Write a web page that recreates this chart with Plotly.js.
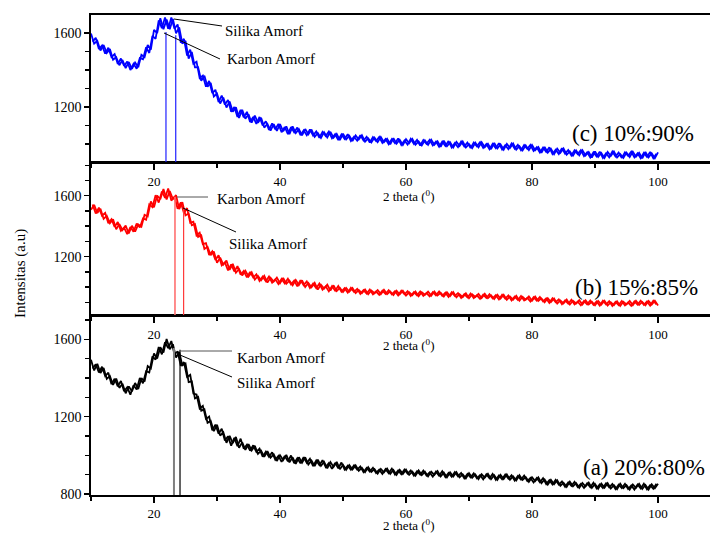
<!DOCTYPE html>
<html>
<head>
<meta charset="utf-8">
<script src="https://cdn.plot.ly/plotly-3.0.1.min.js"></script>
<style>html,body{margin:0;padding:0;background:#fff;}#chart{width:710px;height:533px;}</style>
</head>
<body>
<div id="chart"></div>
<script>
// 2-theta sampling grid (degrees); second read-out is offset by a quarter degree
const thetaStart = 10;
const thetaStep = 0.5;
const thetaOffset = 0.25;

// (c) 10%:90% – blue, top panel (read at 10, 10.5, ... 100)
const intensityC = [
1597,1542,1557,1505,1535,1492,1513,1455,1469,1426,
1454,1410,1443,1406,1440,1415,1482,1469,1535,1510,
1617,1599,1680,1620,1672,1620,1676,1598,1630,1542,
1557,1462,1497,1414,1415,1342,1369,1310,1330,1257,
1272,1219,1251,1197,1230,1175,1198,1141,1185,1137,
1160,1115,1153,1115,1142,1089,1109,1073,1108,1071,
1108,1069,1095,1053,1095,1059,1080,1047,1081,1053,
1078,1039,1059,1033,1064,1036,1066,1034,1055,1021,
1056,1025,1045,1016,1047,1024,1047,1013,1030,1008,
1035,1010,1038,1010,1029,999,1032,1002,1023,995,
1026,1004,1028,996,1014,992,1020,995,1023,996,
1015,985,1018,988,1009,981,1012,990,1014,982,
1000,978,1007,982,1010,983,1002,972,1006,976,
998,970,1001,979,1003,970,988,965,993,967,
995,966,984,953,985,954,974,945,975,953,
976,942,960,937,965,939,967,938,957,927,
960,931,952,925,957,935,960,928,946,925,
954,930,959,932,952,923,957,928,950,923,
955];
// (c) read at 10.25, 10.75, ... 99.75
const intensityC_q = [
1553,1574,1513,1532,1488,1520,1470,1486,1432,1462,
1422,1446,1400,1433,1407,1465,1458,1523,1492,1584,
1568,1668,1626,1684,1622,1684,1623,1646,1548,1568,
1478,1510,1434,1445,1356,1370,1310,1341,1275,1293,
1227,1262,1213,1238,1174,1200,1146,1185,1144,1174,
1119,1146,1109,1146,1101,1123,1076,1112,1080,1109,
1064,1092,1054,1092,1063,1089,1048,1074,1047,1079,
1046,1068,1034,1066,1043,1067,1031,1053,1022,1052,
1028,1053,1017,1040,1018,1048,1019,1039,1008,1037,
1016,1038,1006,1027,999,1027,1004,1030,995,1019,
997,1028,1001,1022,992,1021,1001,1023,992,1013,
985,1013,990,1016,981,1005,983,1014,987,1008,
978,1008,988,1010,979,1000,972,1001,978,1005,
970,994,972,1003,975,996,966,994,974,995,
963,983,954,981,957,982,946,969,946,977,
948,968,938,966,946,967,935,955,927,955,
933,959,925,950,928,960,933,954,925,955,
936,959,928,950,923,952,930,957,923,948];

// (b) 15%:85% – red, middle panel
const intensityB = [
1508,1540,1486,1515,1448,1468,1420,1446,1380,1414,
1375,1404,1352,1403,1365,1412,1397,1475,1464,1562,
1524,1601,1577,1644,1576,1631,1578,1604,1512,1558,
1471,1483,1406,1415,1330,1340,1251,1265,1209,1234,
1160,1193,1148,1174,1113,1153,1095,1119,1077,1108,
1070,1097,1049,1073,1045,1074,1030,1062,1037,1063,
1026,1060,1022,1043,1012,1047,1014,1045,1001,1027,
999,1028,984,1016,991,1016,978,1012,974,995,
968,995,970,994,961,981,961,985,953,978,
960,981,954,982,954,972,948,977,952,977,
945,966,947,972,941,967,950,971,944,972,
945,963,939,967,942,967,933,954,934,959,
927,953,935,956,928,956,928,946,922,950,
925,950,917,938,918,943,911,937,918,939,
911,938,909,926,901,928,902,926,892,913,
893,918,886,911,893,914,886,914,886,904,
880,909,885,911,879,901,882,908,877,904,
887,909,882,911,884,903,880,909,885,911,
879];
const intensityB_q = [
1542,1483,1522,1469,1487,1420,1446,1396,1427,1370,
1390,1348,1394,1364,1418,1391,1451,1442,1543,1525,
1604,1555,1628,1586,1648,1568,1593,1514,1557,1486,
1519,1422,1430,1339,1358,1282,1289,1211,1235,1179,
1209,1143,1162,1110,1149,1103,1138,1081,1106,1064,
1100,1063,1084,1040,1069,1039,1070,1029,1051,1020,
1054,1025,1055,1018,1043,1006,1046,1013,1037,994,
1023,993,1024,983,1005,972,1006,977,1007,970,
993,964,995,969,989,956,981,958,984,953,
971,949,977,955,980,952,974,946,977,953,
973,942,967,946,972,943,961,939,967,946,
971,943,964,936,967,942,961,929,954,932,
958,928,946,923,951,929,954,926,947,919,
950,925,945,913,938,916,942,912,929,906,
934,911,935,906,926,897,927,901,920,888,
913,891,917,886,904,881,909,887,912,884,
906,879,911,887,908,877,903,882,909,880,
899,877,906,885,911,884,906,879,911,887];

// (a) 20%:80% – black, bottom panel
const intensityA = [
1494,1439,1473,1426,1452,1395,1410,1364,1397,1349,
1370,1321,1356,1331,1374,1343,1399,1382,1461,1449,
1527,1500,1559,1532,1601,1548,1574,1505,1534,1465,
1475,1378,1382,1294,1302,1231,1238,1168,1178,1125,
1158,1102,1119,1065,1101,1063,1095,1039,1067,1028,
1058,1025,1049,1008,1024,992,1022,988,1005,971,
1001,976,1002,964,990,956,990,962,990,953,
973,944,978,946,966,933,965,940,966,928,
951,925,950,927,948,920,935,913,939,914,
929,905,930,912,932,904,924,899,925,904,
926,899,916,895,922,898,915,891,916,899,
919,891,911,886,912,891,913,886,902,881,
908,884,901,877,902,885,905,877,897,873,
899,878,901,874,891,870,897,873,888,863,
887,867,886,856,875,849,873,851,871,843,
858,837,864,840,856,832,857,839,859,832,
852,827,854,833,856,829,846,825,853,830,
846,823,849,832,853,826,847,823,850,830,
853];
const intensityA_q = [
1449,1471,1428,1458,1410,1427,1368,1396,1357,1384,
1331,1352,1314,1362,1340,1400,1373,1435,1428,1512,
1495,1560,1522,1585,1554,1591,1522,1537,1463,1482,
1405,1416,1319,1315,1242,1256,1188,1200,1130,1159,
1112,1137,1077,1098,1050,1090,1047,1086,1034,1055,
1024,1052,1018,1035,993,1019,992,1016,977,997,
966,997,969,999,959,985,959,991,961,982,
944,973,949,975,939,960,930,961,933,963,
927,947,926,949,926,942,913,935,916,936,
909,926,904,929,908,931,901,922,902,927,
905,922,895,918,900,921,895,912,890,916,
895,918,888,909,889,914,892,909,881,904,
886,907,881,898,876,902,881,904,874,896,
876,901,880,897,870,893,875,895,867,883,
860,883,861,882,851,871,849,873,849,865,
837,860,842,863,836,853,831,856,835,859,
829,850,831,856,835,852,825,848,831,853,
826,844,823,849,829,853,824,846,827,853];

// Peak marker sticks (position in 2theta, top intensity)
const peaksC_x = [21.9, 23.45];  const peaksC_top = [1605, 1588];
const peaksB_x = [23.33, 24.7];  const peaksB_top = [1594, 1517];
const peaksA_x = [23.17, 24.13]; const peaksA_top = [1555, 1546];

const panelLabels = ['(a) 20%:80%', '(b) 15%:85%', '(c) 10%:90%'];
const peakNames = ['Silika Amorf', 'Karbon Amorf'];
const yRanges = {a: [795, 1723], b: [814, 1819], c: [901, 1697]};
const xRange = [10, 108.25];

const theta = intensityA.map((_, i) => thetaStart + thetaStep * i);
const thetaQ = intensityA_q.map((_, i) => thetaStart + thetaOffset + thetaStep * i);

const FONT = 'Liberation Serif, Times New Roman, serif';

function series(x, y, color, xa, ya) {
  return {x: x, y: y, type: 'scatter', mode: 'lines', xaxis: xa, yaxis: ya,
          line: {color: color, width: 1.8}, hoverinfo: 'skip', showlegend: false};
}
function stick(x, top, bottom, color, width, xa, ya) {
  return {x: [x, x], y: [bottom, top], type: 'scatter', mode: 'lines', xaxis: xa, yaxis: ya,
          line: {color: color, width: width}, hoverinfo: 'skip', showlegend: false};
}

const traces = [
  series(theta, intensityA, '#000000', 'x', 'y'),
  series(thetaQ, intensityA_q, '#000000', 'x', 'y'),
  series(theta, intensityB, '#ff0000', 'x2', 'y2'),
  series(thetaQ, intensityB_q, '#ff0000', 'x2', 'y2'),
  series(theta, intensityC, '#0000ff', 'x3', 'y3'),
  series(thetaQ, intensityC_q, '#0000ff', 'x3', 'y3'),
  stick(peaksC_x[0], peaksC_top[0], yRanges.c[0], '#2020ff', 1.2, 'x3', 'y3'),
  stick(peaksC_x[1], peaksC_top[1], yRanges.c[0], '#2020ff', 1.2, 'x3', 'y3'),
  stick(peaksB_x[0], peaksB_top[0], yRanges.b[0], '#ff7070', 1.6, 'x2', 'y2'),
  stick(peaksB_x[1], peaksB_top[1], yRanges.b[0], '#ff3b3b', 1.2, 'x2', 'y2'),
  stick(peaksA_x[0], peaksA_top[0], yRanges.a[0], '#808080', 2, 'x', 'y'),
  stick(peaksA_x[1], peaksA_top[1], yRanges.a[0], '#000000', 1.2, 'x', 'y')
];

function xax(anchor) {
  return {domain: [0, 1], range: xRange, anchor: anchor, showgrid: false, zeroline: false,
    showline: true, linecolor: '#000', linewidth: 1.6, mirror: true,
    ticks: 'outside', ticklen: 6, tickwidth: 1.5, tickcolor: '#000',
    tick0: 0, dtick: 20,
    minor: {dtick: 10, ticks: 'outside', ticklen: 4, tickwidth: 1.5, tickcolor: '#000'},
    tickfont: {family: FONT, size: 13, color: '#000'}};
}
function yax(domain, range, anchor) {
  return {domain: domain, range: range, anchor: anchor, showgrid: false, zeroline: false,
    showline: true, linecolor: '#000', linewidth: 1.6, mirror: false,
    ticks: 'outside', ticklen: 5, tickwidth: 1.5, tickcolor: '#000',
    tick0: 0, dtick: 400,
    minor: {dtick: 100, ticks: 'outside', ticklen: 4, tickwidth: 1.5, tickcolor: '#000'},
    tickfont: {family: FONT, size: 14, color: '#000'}};
}

// pixel -> paper helpers (plot area: x 91..710, y 15..495)
const L = 91, W = 619, B = 495, H = 480;
const px = p => (p - L) / W;
const py = p => (B - p) / H;

function txt(text, x, y, size, anchor, extra) {
  return Object.assign({text: text, xref: 'paper', yref: 'paper', x: px(x), y: py(y),
    xanchor: anchor, yanchor: 'middle', showarrow: false, borderpad: 0,
    font: {family: FONT, size: size, color: '#000'}}, extra || {});
}
function seg(x0, y0, x1, y1, color) {
  return {type: 'line', xref: 'paper', yref: 'paper', x0: px(x0), y0: py(y0), x1: px(x1), y1: py(y1),
    line: {color: color, width: 1}};
}

const xTitle = '2 theta (<sup>0</sup>)';
const annotations = [
  txt('Intensitas (a.u)', 20, 274, 15, 'center', {textangle: -90}),
  txt(xTitle, 408, 196, 13, 'center'),
  txt(xTitle, 408, 345, 13, 'center'),
  txt(xTitle, 408, 534, 13, 'center', {yanchor: 'bottom'}),
  txt(panelLabels[2], 571, 133, 23, 'left'),
  txt(panelLabels[1], 574, 287, 23, 'left'),
  txt(panelLabels[0], 582, 467, 23, 'left'),
  txt(peakNames[0], 224, 31, 15, 'left'),
  txt(peakNames[1], 226, 59, 15, 'left'),
  txt(peakNames[1], 216, 199, 15, 'left'),
  txt(peakNames[0], 228, 244, 15, 'left'),
  txt(peakNames[1], 236, 358, 15, 'left'),
  txt(peakNames[0], 236, 383, 15, 'left')
];

const shapes = [
  seg(174, 19, 222, 26, '#000'),
  seg(164, 33, 220, 59, '#000'),
  seg(177, 197, 208, 197, '#555'),
  seg(183, 208, 236, 232, '#000'),
  seg(180, 351, 232, 351, '#555'),
  seg(180, 355, 232, 377, '#000')
];

const layout = {
  width: 710, height: 533,
  margin: {l: 91, r: 0, t: 15, b: 38},
  paper_bgcolor: '#fff', plot_bgcolor: 'rgba(0,0,0,0)',
  showlegend: false,
  font: {family: FONT, color: '#000'},
  xaxis: xax('y'),
  yaxis: yax([0, 0.374], yRanges.a, 'x'),
  xaxis2: xax('y2'),
  yaxis2: yax([0.374, 0.693], yRanges.b, 'x2'),
  xaxis3: xax('y3'),
  yaxis3: yax([0.693, 1], yRanges.c, 'x3'),
  annotations: annotations,
  shapes: shapes
};

Plotly.newPlot('chart', traces, layout, {staticPlot: true, displayModeBar: false});
</script>
</body>
</html>
